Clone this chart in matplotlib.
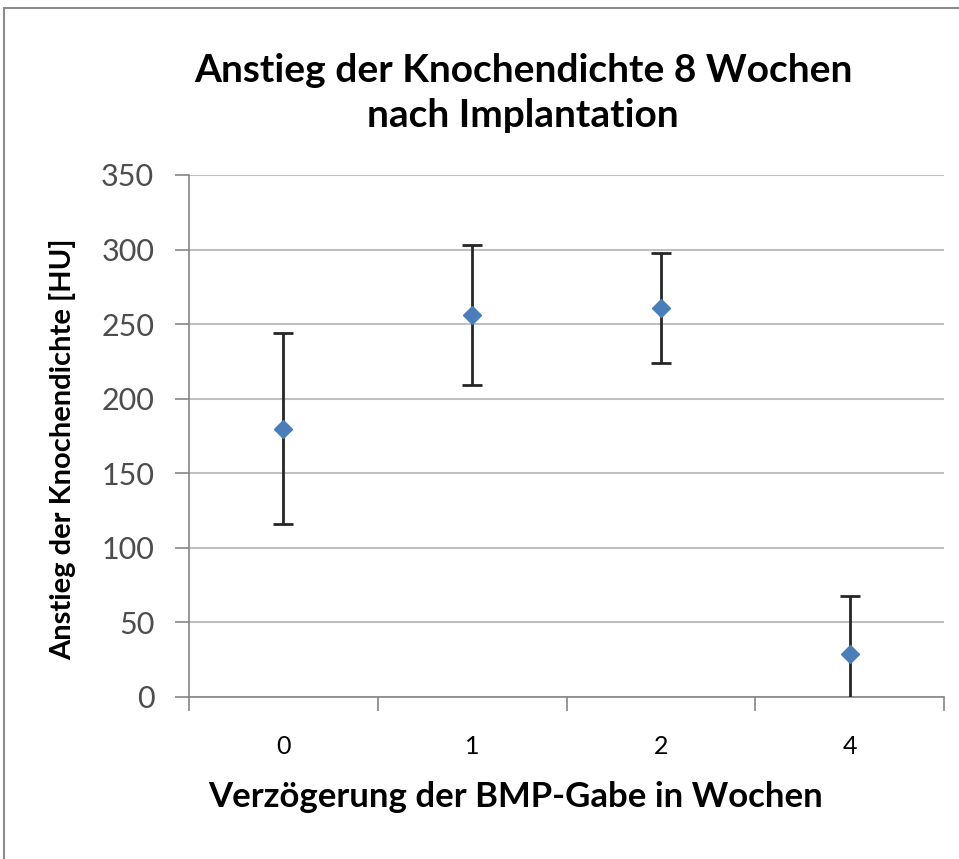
import matplotlib.pyplot as plt
from matplotlib.patches import Rectangle

# data
categories = ['0', '1', '2', '4']
means = [180, 256, 261, 29]
errors = [64, 47, 37, 39]

title = 'Anstieg der Knochendichte 8 Wochen\nnach Implantation'
xlabel = 'Verzögerung der BMP-Gabe in Wochen'
ylabel = 'Anstieg der Knochendichte [HU]'

plt.rcParams['font.family'] = ['Lato', 'DejaVu Sans']

W, H = 959, 859
fig = plt.figure(figsize=(W / 100, H / 100), dpi=100)
ax = fig.add_axes([189 / W, 1 - 697 / H, (944 - 189) / W, (697 - 175) / H])

# outer chart frame
fig.patches.append(Rectangle((0.004, -0.05), 1.1, 1.05 - 8 / H, transform=fig.transFigure,
                             fill=False, edgecolor='#8c8c8c', linewidth=1.5))

x = list(range(len(categories)))
ax.errorbar(x, means, yerr=errors, fmt='D', color='#4a7ebb', markersize=9,
            ecolor='#262626', elinewidth=2, capsize=7, capthick=2, zorder=3)

ax.set_xlim(-0.5, len(categories) - 0.5)
ax.set_ylim(0, 350)
ax.set_yticks(range(0, 351, 50))
ax.yaxis.grid(True, color='#c0c0c0', linewidth=1.5)
ax.set_axisbelow(True)

ax.set_xticks([i - 0.5 for i in range(len(categories) + 1)])
ax.set_xticklabels([])
ax.set_xticks(x, minor=True)
ax.set_xticklabels(categories, minor=True)
ax.tick_params(axis='x', which='major', length=10, color='#868686', width=1.2)
ax.tick_params(axis='x', which='minor', length=0, pad=27, labelsize=18, labelcolor='black')
ax.tick_params(axis='y', length=10, color='#868686', width=1.2, labelsize=22,
               labelcolor='#4d4d4d', pad=15)

for side in ['top', 'right']:
    ax.spines[side].set_visible(False)
for side in ['left', 'bottom']:
    ax.spines[side].set_color('#868686')
    ax.spines[side].set_linewidth(1.2)

fig.text(523 / W, 1 - 93 / H, title, fontsize=28, fontweight='bold',
         ha='center', va='center', linespacing=1.35)
fig.text(516 / W, 1 - 797 / H, xlabel, fontsize=25, fontweight='bold',
         ha='center', va='center')
ax.set_ylabel(ylabel, fontsize=21, fontweight='bold')
ax.yaxis.set_label_coords(-(189 - 76) / (944 - 189), (697 - 449) / (697 - 175))

fig.savefig('out.png', dpi=100)
